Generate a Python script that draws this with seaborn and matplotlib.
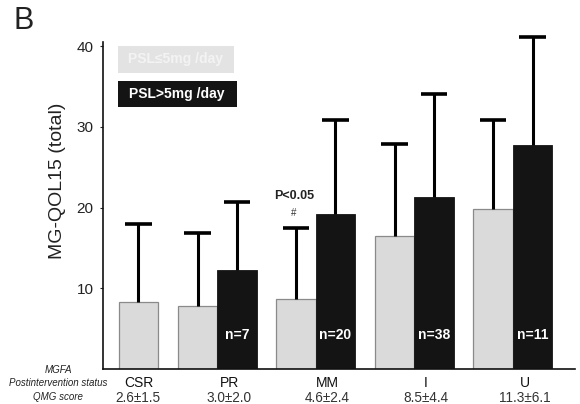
import numpy as np
import pandas as pd
import matplotlib
matplotlib.use("Agg")
import matplotlib.pyplot as plt
from matplotlib.patches import Rectangle
from matplotlib.container import BarContainer
import seaborn as sns

# ---- data ----
groups = ["CSR", "PR", "MM", "I", "U"]
qmg_scores = ["2.6±1.5", "3.0±2.0", "4.6±2.4", "8.5±4.4", "11.3±6.1"]
low_mean = [8.3, 7.8, 8.7, 16.5, 19.8]
low_sd = [9.7, 9.1, 8.8, 11.4, 11.1]
high_mean = [np.nan, 12.3, 19.2, 21.3, 27.8]
high_sd = [np.nan, 8.4, 11.6, 12.8, 13.3]
n_high = ["", "n=7", "n=20", "n=38", "n=11"]
hue_levels = ["PSL≤5mg /day", "PSL>5mg /day"]

rows = []
for g, m, s in zip(groups, low_mean, low_sd):
    rows.append(dict(group=g, dose=hue_levels[0], value=m, sd=s))
for g, m, s in zip(groups, high_mean, high_sd):
    if not np.isnan(m):
        rows.append(dict(group=g, dose=hue_levels[1], value=m, sd=s))
df = pd.DataFrame(rows)

sns.set_style("white")
plt.rcParams["font.family"] = ["Liberation Sans", "DejaVu Sans"]

fig = plt.figure(figsize=(5.8, 4.04), dpi=100)
ax = fig.add_axes([0.178, 0.0866, 0.814, 0.809])

light = "#dadada"
dark = "#141414"
sns.barplot(data=df, x="group", y="value", hue="dose", order=groups,
            hue_order=hue_levels, palette=[light, dark], width=0.8,
            errorbar=None, ax=ax, legend=False, saturation=1)

bar_conts = [c for c in ax.containers if isinstance(c, BarContainer)]

# style bars, shift the lone CSR bar into the right slot, add upper SD bars
sd_lookup = {(r.group, r.dose): r.sd for r in df.itertuples()}
cap_half = 0.135
for hi, cont in enumerate(bar_conts):
    for p in list(cont):
        if p is None:
            continue
        h = p.get_height()
        if h is None or np.isnan(h):
            continue
        cx = p.get_x() + p.get_width() / 2
        ci = int(round(cx + (0.2 if hi == 0 else -0.2)))
        g = groups[ci]
        if hi == 0:
            p.set_edgecolor("#8a8a8a")
            p.set_linewidth(0.9)
            if g == "CSR":
                p.set_x(p.get_x() + p.get_width())
        else:
            p.set_edgecolor(dark)
            p.set_linewidth(0.6)
        cx = p.get_x() + p.get_width() / 2
        sd = sd_lookup[(g, hue_levels[hi])]
        ax.vlines(cx, h, h + sd, color="black", linewidth=2.2, clip_on=False,
                  zorder=1)
        ax.hlines(h + sd, cx - cap_half, cx + cap_half, color="black",
                  linewidth=2.6, clip_on=False, zorder=1)
        if hi == 1:
            ax.text(cx, 4.2, n_high[ci], color="white", ha="center",
                    va="center", fontsize=10, fontweight="bold")

ax.set_ylim(0, 40.5)
ax.set_xlim(-0.157, 4.635)
ax.set_yticks([10, 20, 30, 40])
ax.set_yticklabels(["10", "20", "30", "40"], fontsize=11, color="#222222")
ax.tick_params(axis="y", length=2, width=0.8, pad=5, direction="out", left=True)
ax.set_xticks([])
ax.set_xlabel("")
ax.set_ylabel("MG-QOL15 (total)", fontsize=14, color="#222222")
ax.yaxis.set_label_coords(-0.078, 0.575)
for side in ["top", "right"]:
    ax.spines[side].set_visible(False)
for side in ["left", "bottom"]:
    ax.spines[side].set_linewidth(1.2)
    ax.spines[side].set_color("#111111")

# significance mark above MM light bar
ax.text(1.78, 21.4, "P<0.05", ha="center", va="center", fontsize=9,
        fontweight="bold", color="#222222")
ax.text(1.78, 19.3, "#", ha="center", va="center", fontsize=7, color="#333333")

# category labels and QMG score beneath
trans = ax.get_xaxis_transform()
label_x = [0.2, 1.12, 2.12, 3.12, 4.12]
for x, g, s in zip(label_x, groups, qmg_scores):
    ax.text(x, -0.043, g, transform=trans, ha="center", va="center",
            fontsize=10, color="#111111", clip_on=False)
    ax.text(x, -0.088, s, transform=trans, ha="center", va="center",
            fontsize=9.8, color="#333333", clip_on=False)

fig.text(58 / 580, 1 - 370 / 404, "MGFA", ha="center", va="center",
         fontsize=7, style="italic", color="#222222")
fig.text(58 / 580, 1 - 383 / 404, "Postintervention status", ha="center",
         va="center", fontsize=7, style="italic", color="#222222")
fig.text(58 / 580, 1 - 397 / 404, "QMG score", ha="center", va="center",
         fontsize=7, style="italic", color="#222222")

# legend boxes
def fig_rect(x0, y0, x1, y1, color):
    r = Rectangle((x0 / 580, 1 - y1 / 404), (x1 - x0) / 580, (y1 - y0) / 404,
                  transform=fig.transFigure, facecolor=color, edgecolor="none")
    fig.patches.append(r)

fig_rect(118, 46, 234, 73, "#e3e3e3")
fig.text(176 / 580, 1 - 59.5 / 404, hue_levels[0], ha="center", va="center",
         fontsize=10, fontweight="bold", color="#f3f3f3")
fig_rect(118, 81, 237, 107, dark)
fig.text(177 / 580, 1 - 94 / 404, hue_levels[1], ha="center", va="center",
         fontsize=10, fontweight="bold", color="white")

# panel letter
fig.text(24 / 580, 1 - 21 / 404, "B", ha="center", va="center",
         fontsize=22, color="#222222")

fig.savefig("out.png", dpi=100)
